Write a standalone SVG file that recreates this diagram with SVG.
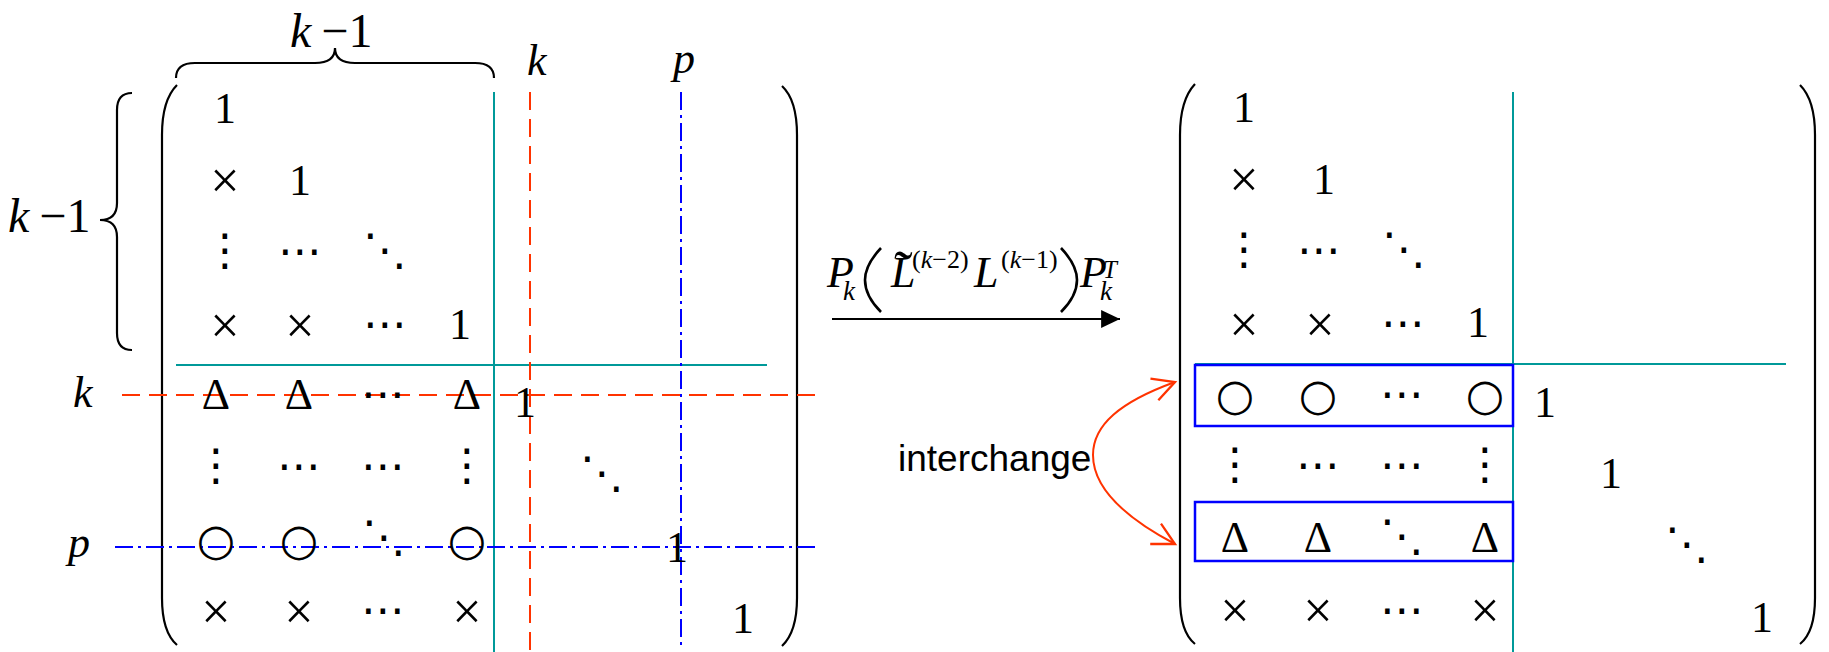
<svg xmlns="http://www.w3.org/2000/svg" width="1829" height="652" viewBox="0 0 1829 652">
<style>
.m{font-family:"Liberation Serif","Times New Roman",serif;font-size:44px;fill:#000;text-anchor:middle}
.x{font-family:"Liberation Serif","Times New Roman",serif;font-size:52px;fill:#000;text-anchor:middle}
.i{font-family:"Liberation Serif","Times New Roman",serif;font-style:italic;fill:#000}
.r{font-family:"Liberation Serif","Times New Roman",serif;font-style:normal;fill:#000}
.d{font-family:"DejaVu Sans",sans-serif;font-size:44px;fill:#000;text-anchor:middle}
.c{font-family:"DejaVu Sans",sans-serif;font-size:44px;fill:#000;text-anchor:middle}
.par{fill:none;stroke:#000;stroke-width:2.2}
.fpar{fill:none;stroke:#000;stroke-width:2.6}
.teal{fill:none;stroke:#009999;stroke-width:2}
.red{fill:none;stroke:#FF3300;stroke-width:2;stroke-dasharray:18 9}
.blue{fill:none;stroke:#0000FF;stroke-width:2;stroke-dasharray:18 5 3 5}
.box{fill:none;stroke:#0000FF;stroke-width:2.5}
</style>
<defs>
<marker id="openv" markerUnits="userSpaceOnUse" markerWidth="30" markerHeight="30" viewBox="-22 -12 26 24" refX="0" refY="0" orient="auto-start-reverse">
<path d="M-19,-10 L0,0 L-19,10" fill="none" stroke="#FF3300" stroke-width="2"/>
</marker>
<marker id="solid" markerUnits="userSpaceOnUse" markerWidth="20" markerHeight="20" viewBox="-17 -9 18 18" refX="0" refY="0" orient="auto">
<path d="M-17,-8 L0,0 L-17,8 Z" fill="#000"/>
</marker>
</defs>

<g id="left-matrix">
<path class="par" d="M177,85 Q162,100 162,135 L162,598 Q162,632 177,645"/>
<path class="par" d="M782,86 Q797,100 797,135 L797,598 Q797,632 782,646"/>
<path class="teal" d="M494,92 V652 M176,365 H767"/>
<path class="red" d="M122,395 H818 M530,92 V652"/>
<path class="blue" d="M115,547 H818 M681,92 V648"/>
<text class="m" x="225" y="123">1</text>
<text class="x" x="225" y="198">×</text><text class="m" x="300" y="195">1</text>
<text class="d" x="225" y="265">⋮</text><text class="d" x="300" y="266">⋯</text><text class="d" x="385" y="265">⋱</text>
<text class="x" x="225" y="343">×</text><text class="x" x="300" y="343">×</text><text class="d" x="385" y="339">⋯</text><text class="m" x="460" y="339">1</text>
<text class="m" x="216" y="409">Δ</text><text class="m" x="299" y="409">Δ</text><text class="d" x="383" y="409">⋯</text><text class="m" x="467" y="409">Δ</text><text class="m" x="525" y="417">1</text>
<text class="d" x="216" y="480">⋮</text><text class="d" x="299" y="481">⋯</text><text class="d" x="383" y="481">⋯</text><text class="d" x="467" y="480">⋮</text><text class="d" x="602" y="488">⋱</text>
<text class="c" x="216" y="555">○</text><text class="c" x="299" y="555">○</text><text class="d" x="384" y="552">⋱</text><text class="c" x="467" y="555">○</text><text class="m" x="677" y="562">1</text>
<text class="x" x="216" y="629">×</text><text class="x" x="299" y="629">×</text><text class="d" x="383" y="625">⋯</text><text class="x" x="467" y="629">×</text><text class="m" x="743" y="633">1</text>
</g>

<g id="brace-top">
<path class="par" d="M176,78 C176,68 182,63 195,63 L315,63 C328,63 335,58 335,48 C335,58 342,63 355,63 L475,63 C488,63 494,68 494,78"/>
<text x="290" y="47" font-size="48"><tspan class="i">k</tspan><tspan class="r" dx="10">−1</tspan></text>
</g>
<g id="brace-left">
<path class="par" d="M132,93 C122,93 117,98 117,110 L117,203 C117,214 112,220 100,220 C112,220 117,226 117,237 L117,333 C117,345 122,350 132,350"/>
<text x="8" y="232" font-size="48"><tspan class="i">k</tspan><tspan class="r" dx="10">−1</tspan></text>
</g>
<g id="labels">
<text class="i" x="527" y="75" font-size="44">k</text>
<text class="i" x="673" y="73" font-size="44">p</text>
<text class="i" x="73" y="407" font-size="44">k</text>
<text class="i" x="68" y="557" font-size="44">p</text>
</g>

<g id="transform-label">
<path class="fpar" d="M881,248 Q865,265 865,280 Q865,296 881,312"/>
<path class="fpar" d="M1061,248 Q1077,265 1077,280 Q1077,296 1061,312"/>
<text class="i" font-size="44"><tspan x="827" y="287">P</tspan><tspan x="843" y="300" font-size="27">k</tspan><tspan x="891" y="287">L</tspan><tspan class="r" x="894" y="290" font-size="56">˜</tspan><tspan class="r" x="912" y="268" font-size="26">(</tspan><tspan font-size="26">k</tspan><tspan class="r" font-size="26">−2)</tspan><tspan x="974" y="287">L</tspan><tspan class="r" x="1001" y="268" font-size="26">(</tspan><tspan font-size="26">k</tspan><tspan class="r" font-size="26">−1)</tspan><tspan x="1080" y="287">P</tspan><tspan x="1103" y="278" font-size="25">T</tspan><tspan x="1100" y="300" font-size="27">k</tspan></text>
</g>

<g id="right-matrix">
<path class="par" d="M1195,84 Q1180,100 1180,135 L1180,598 Q1180,632 1195,644"/>
<path class="par" d="M1800,85 Q1815,100 1815,135 L1815,598 Q1815,632 1800,644"/>
<path class="teal" d="M1513,92 V652 M1195,364 H1786"/>
<rect class="box" x="1195" y="365" width="318" height="61"/>
<rect class="box" x="1195" y="502" width="318" height="59"/>
<text class="m" x="1244" y="122">1</text>
<text class="x" x="1244" y="197">×</text><text class="m" x="1324" y="194">1</text>
<text class="d" x="1244" y="264">⋮</text><text class="d" x="1319" y="265">⋯</text><text class="d" x="1404" y="264">⋱</text>
<text class="x" x="1244" y="342">×</text><text class="x" x="1320" y="342">×</text><text class="d" x="1403" y="338">⋯</text><text class="m" x="1478" y="337">1</text>
<text class="c" x="1235" y="410">○</text><text class="c" x="1318" y="410">○</text><text class="d" x="1402" y="409">⋯</text><text class="c" x="1485" y="410">○</text><text class="m" x="1545" y="417">1</text>
<text class="d" x="1235" y="479">⋮</text><text class="d" x="1318" y="480">⋯</text><text class="d" x="1402" y="480">⋯</text><text class="d" x="1485" y="479">⋮</text><text class="m" x="1611" y="488">1</text>
<text class="m" x="1235" y="552">Δ</text><text class="m" x="1318" y="552">Δ</text><text class="d" x="1402" y="551">⋱</text><text class="m" x="1485" y="552">Δ</text><text class="d" x="1687" y="559">⋱</text>
<text class="x" x="1235" y="628">×</text><text class="x" x="1318" y="628">×</text><text class="d" x="1402" y="625">⋯</text><text class="x" x="1485" y="628">×</text><text class="m" x="1762" y="632">1</text>
</g>

<g id="connectors">
<path d="M832,319 H1120" fill="none" stroke="#000" stroke-width="2" marker-end="url(#solid)"/>
<path d="M1175,382 C1120,402 1093,425 1093,455 C1093,485 1120,515 1175,544" fill="none" stroke="#FF3300" stroke-width="2" marker-start="url(#openv)" marker-end="url(#openv)"/>
</g>
<g id="interchange-label">
<text x="898" y="471" font-family="Liberation Sans, Arial, sans-serif" font-size="37" fill="#000">interchange</text>
</g>
</svg>
